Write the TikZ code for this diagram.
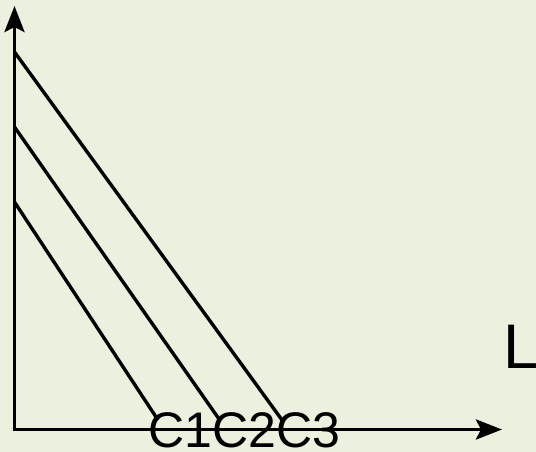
\documentclass[tikz,border=0pt]{standalone}
\usepackage{fontspec}
\setmainfont{Liberation Sans}
\usetikzlibrary{arrows.meta}
\definecolor{bgcol}{HTML}{EBF1DE}
\tikzset{
  axisline/.style={line width=3.6pt, black, {Stealth[length=26pt,width=20pt,inset=5pt]}-{Stealth[length=26pt,width=20pt,inset=5pt]}},
  budget/.style={line width=3.4pt, black},
  clabel/.style={inner sep=0pt, anchor=base west, font=\fontsize{50}{60}\selectfont},
  llabel/.style={inner sep=0pt, anchor=base west, font=\fontsize{63}{75}\selectfont}
}
\begin{document}
\begin{tikzpicture}[x=1pt,y=-1pt]
  \fill[bgcol] (0,0) rectangle (536,452);
  \useasboundingbox (0,0) rectangle (536,452);
  \coordinate (top) at (14.5,6);
  \coordinate (o) at (14.5,429.5);
  \coordinate (right) at (502,429.5);
  \coordinate (a1) at (14.5,202);
  \coordinate (b1) at (158,420);
  \coordinate (a2) at (14.5,127);
  \coordinate (b2) at (219,419);
  \coordinate (a3) at (14.5,52);
  \coordinate (b3) at (282,420);
  \draw[budget] (a1) -- (b1);
  \draw[budget] (a2) -- (b2);
  \draw[budget] (a3) -- (b3);
  \draw[axisline, line join=miter] (top) -- (o) -- (right);
  \node[clabel] (c1) at (148,447) {C1};
  \node[clabel] (c2) at (212,447) {C2};
  \node[clabel] (c3) at (276,447) {C3};
  \node[llabel] (l) at (503.5,368) {L};
\end{tikzpicture}
\end{document}
